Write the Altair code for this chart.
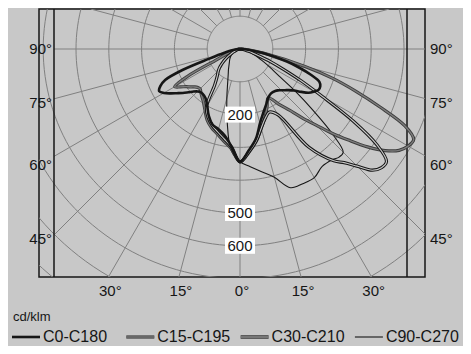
import math
import altair as alt
import numpy as np
import pandas as pd

# ---------------- data (cd/klm) ----------------
gamma = [0, 5, 10, 15, 20, 25, 30, 35, 40, 42.5, 45, 47.5, 50, 52.5, 55, 57.5, 60, 62.5, 65, 67.5, 70, 72.5, 75, 80, 85, 90]
c0   = [344, 310, 278, 235, 207, 188, 172, 165, 167, 171, 178, 186, 195, 208, 228, 248, 260, 270, 270, 262, 230, 190, 148, 71, 25, 0]
c180 = [344, 298, 268, 253, 245, 225, 200, 183, 178, 178, 183, 192, 205, 220, 235, 252, 268, 278, 268, 247, 185, 100, 62, 28, 8, 0]
c15  = [344, 315, 285, 250, 222, 195, 172, 205, 252, 290, 328, 380, 432, 490, 540, 575, 592, 597, 555, 462, 375, 295, 205, 75, 25, 0]
c195 = [344, 305, 285, 268, 255, 238, 214, 195, 183, 177, 172, 174, 180, 190, 200, 215, 230, 180, 85, 55, 40, 30, 20, 10, 4, 0]
c30  = [344, 315, 285, 250, 225, 212, 232, 365, 445, 470, 505, 547, 563, 563, 510, 410, 290, 210, 145, 100, 62, 42, 30, 15, 5, 0]
c210 = [344, 300, 278, 262, 248, 230, 205, 135, 108, 100, 93, 85, 75, 65, 55, 45, 35, 28, 22, 17, 14, 11, 9, 5, 2, 0]
c90  = [344, 360, 380, 405, 450, 453, 453, 437, 440, 447, 445, 380, 290, 215, 150, 118, 95, 75, 60, 48, 38, 30, 22, 12, 5, 0]
c270 = [344, 310, 225, 155, 110, 85, 70, 58, 50, 47, 44, 41, 38, 35, 32, 29, 26, 23, 20, 17, 14, 11, 8, 4, 2, 0]

series_names = ["C0-C180", "C15-C195", "C30-C210", "C90-C270"]
series_right = [c0, c15, c30, c90]
series_left = [c180, c195, c210, c270]

ring_values = [100, 200, 300, 400, 500, 600, 700, 800, 900, 1000]
radial_angles = list(range(-165, 181, 15))
side_labels = [90, 75, 60, 45]
bottom_labels = [-30, -15, 0, 15, 30]
value_labels = [200, 500, 600]

# ---------------- geometry of the drawing ----------------
K = 0.328            # px per cd/klm
CX, CY = 240, 49     # page px of the pole
X0, Y0, W, H = 39, 9, 386, 268


def ux(px):
    return (px - CX) / K


def uy(py):
    return (CY - py) / K


xs = alt.Scale(domain=[ux(X0), ux(X0 + W)], nice=False, zero=False)
ys = alt.Scale(domain=[uy(Y0 + H), uy(Y0)], nice=False, zero=False)

BG = "#c8c8c8"
GRID = "#808080"
INK = "#161616"
GRAY_EDGE = "#3c3c3c"
GRAY_MID = "#7c7c7c"
FONT = "Liberation Sans"

# ---------------- curves ----------------
rows = []
for name, right, left in zip(series_names, series_right, series_left):
    for g, v in zip(gamma, left):
        if g > 0:
            rows.append({"series": name, "a": -g, "I": v})
    for g, v in zip(gamma, right):
        rows.append({"series": name, "a": g, "I": v})
curves = pd.DataFrame(rows)


def curve(name, color, width):
    return (
        alt.Chart(curves)
        .transform_filter(alt.datum.series == name)
        .transform_calculate(
            x="datum.I*sin(datum.a*PI/180)", y="-datum.I*cos(datum.a*PI/180)"
        )
        .mark_line(color=color, strokeWidth=width, clip=True, strokeJoin="round",
                   interpolate="catmull-rom")
        .encode(
            x=alt.X("x:Q", scale=xs, axis=None),
            y=alt.Y("y:Q", scale=ys, axis=None),
            order="a:Q",
        )
    )


# ---------------- grid ----------------
ring_rows = []
for r in ring_values:
    for t in np.arange(0, 361, 2):
        ring_rows.append({"r": r, "t": float(t)})
rings = (
    alt.Chart(pd.DataFrame(ring_rows))
    .transform_calculate(x="datum.r*sin(datum.t*PI/180)", y="-datum.r*cos(datum.t*PI/180)")
    .mark_line(color=GRID, strokeWidth=1, clip=True)
    .encode(
        x=alt.X("x:Q", scale=xs, axis=None),
        y=alt.Y("y:Q", scale=ys, axis=None),
        detail="r:N",
        order="t:Q",
    )
)

XL, XR = ux(54), ux(X0 + W)
YB, YT = -uy(Y0 + H), uy(Y0)
radials = (
    alt.Chart(pd.DataFrame({"a": radial_angles}))
    .transform_calculate(s="sin(datum.a*PI/180)", c="cos(datum.a*PI/180)")
    .transform_calculate(
        rx=f"datum.s < -1e-9 ? {XL}/datum.s : (datum.s > 1e-9 ? {XR}/datum.s : 1e9)",
        ry=f"datum.c > 1e-9 ? {YB}/datum.c : (datum.c < -1e-9 ? {YT}/(-datum.c) : 1e9)",
    )
    .transform_calculate(re="min(datum.rx, datum.ry)")
    .transform_calculate(
        x1="100*datum.s", y1="-100*datum.c", x2="datum.re*datum.s", y2="-datum.re*datum.c"
    )
    .mark_rule(color=GRID, strokeWidth=1, clip=True)
    .encode(
        x=alt.X("x1:Q", scale=xs, axis=None),
        y=alt.Y("y1:Q", scale=ys, axis=None),
        x2="x2:Q",
        y2="y2:Q",
    )
)

inner_frame = (
    alt.Chart(pd.DataFrame({"x": [ux(54), ux(407)]}))
    .mark_rule(color=INK, strokeWidth=1.5)
    .encode(x=alt.X("x:Q", scale=xs, axis=None))
)

# ---------------- labels ----------------
sl = []
for a in side_labels:
    py = min(CY + (CX - X0) / math.tan(math.radians(a)) if a != 90 else CY, 239)
    sl.append({"t": f"{a}°", "xl": ux(52), "xr": ux(430), "y": uy(py)})
sl = pd.DataFrame(sl)
left_lab = alt.Chart(sl).mark_text(align="right", baseline="middle", font=FONT, fontSize=15, color=INK).encode(
    x=alt.X("xl:Q", scale=xs, axis=None), y=alt.Y("y:Q", scale=ys, axis=None), text="t:N")
right_lab = alt.Chart(sl).mark_text(align="left", baseline="middle", font=FONT, fontSize=15, color=INK).encode(
    x=alt.X("xr:Q", scale=xs, axis=None), y=alt.Y("y:Q", scale=ys, axis=None), text="t:N")

bl = pd.DataFrame([
    {"t": f"{abs(a)}°", "x": ux(CX + (Y0 + H - CY) * math.tan(math.radians(a))), "y": uy(291)}
    for a in bottom_labels
])
bottom_lab = alt.Chart(bl).mark_text(align="center", baseline="middle", dx=2, font=FONT, fontSize=15, color=INK).encode(
    x=alt.X("x:Q", scale=xs, axis=None), y=alt.Y("y:Q", scale=ys, axis=None), text="t:N")

vl = pd.DataFrame({"v": value_labels})
vl["t"] = vl["v"].astype(str)
vl["y"] = -vl["v"]
vl["x"] = 0.0
val_box = alt.Chart(vl).mark_point(
    shape="M-1.5,-0.8L1.5,-0.8L1.5,0.8L-1.5,0.8Z", size=400, filled=True, fill="white", opacity=1, strokeWidth=0
).encode(x=alt.X("x:Q", scale=xs, axis=None), y=alt.Y("y:Q", scale=ys, axis=None))
val_text = alt.Chart(vl).mark_text(align="center", baseline="middle", font=FONT, fontSize=15, color=INK).encode(
    x=alt.X("x:Q", scale=xs, axis=None), y=alt.Y("y:Q", scale=ys, axis=None), text="t:N")

unit = alt.Chart(pd.DataFrame({"t": ["cd/klm"], "x": [ux(13)], "y": [uy(317)]})).mark_text(
    align="left", baseline="middle", font=FONT, fontSize=13, color=INK
).encode(x=alt.X("x:Q", scale=xs, axis=None), y=alt.Y("y:Q", scale=ys, axis=None), text="t:N")

# ---------------- legend ----------------
LEG_Y = 337
leg = pd.DataFrame({"name": series_names, "i": list(range(4))})
leg["x1"] = [ux(12 + 114.3 * i) for i in range(4)]
leg["x2"] = [ux(40 + 114.3 * i) for i in range(4)]
leg["xt"] = [ux(43 + 114.3 * i) for i in range(4)]
leg["y"] = uy(LEG_Y)


def leg_line(name, color, width):
    return alt.Chart(leg).transform_filter(alt.datum.name == name).mark_rule(color=color, strokeWidth=width).encode(
        x=alt.X("x1:Q", scale=xs, axis=None), x2="x2:Q", y=alt.Y("y:Q", scale=ys, axis=None))


leg_text = alt.Chart(leg).mark_text(align="left", baseline="middle", font=FONT, fontSize=16, color=INK).encode(
    x=alt.X("xt:Q", scale=xs, axis=None), y=alt.Y("y:Q", scale=ys, axis=None), text="name:N")

chart = alt.layer(
    rings,
    radials,
    inner_frame,
    curve("C90-C270", INK, 1.1),
    curve("C15-C195", GRAY_EDGE, 3.2),
    curve("C15-C195", GRAY_MID, 1.4),
    curve("C30-C210", INK, 3.2),
    curve("C30-C210", BG, 1.1),
    curve("C0-C180", INK, 2.6),
    val_box,
    val_text,
    left_lab,
    right_lab,
    bottom_lab,
    unit,
    leg_line("C0-C180", INK, 2.6),
    leg_line("C15-C195", GRAY_EDGE, 3.2),
    leg_line("C15-C195", GRAY_MID, 1.4),
    leg_line("C30-C210", INK, 3.2),
    leg_line("C30-C210", BG, 1.1),
    leg_line("C90-C270", INK, 1.1),
    leg_text,
).properties(
    width=W,
    height=H,
    padding={"left": X0 - 8, "top": Y0 - 8, "right": 471 - 16 - (X0 - 8) - W, "bottom": 354 - 16 - (Y0 - 8) - H},
    autosize=alt.AutoSizeParams(type="none"),
).configure(background=BG).configure_view(stroke=INK, strokeWidth=1.5)

chart.save("out.html", embed_options={"renderer": "svg", "actions": False})
